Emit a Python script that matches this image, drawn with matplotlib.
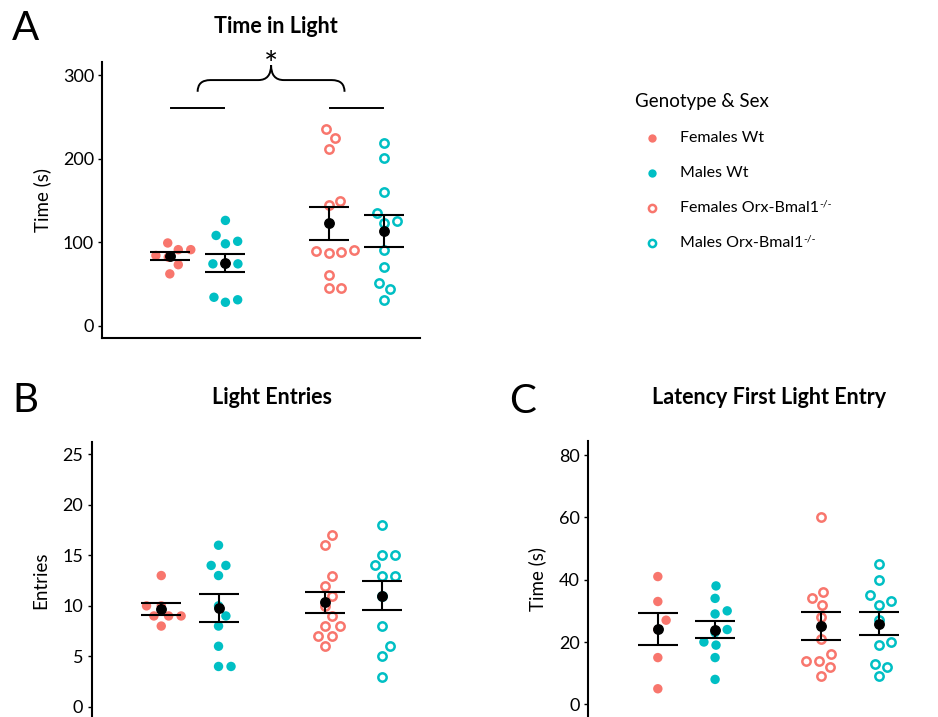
import numpy as np
import matplotlib
matplotlib.use('Agg')
import matplotlib.pyplot as plt
from matplotlib.path import Path
from matplotlib.patches import PathPatch
from matplotlib.lines import Line2D

plt.rcParams['font.family'] = ['Lato', 'DejaVu Sans']

# ---------------------------------------------------------------
#  Data
# ---------------------------------------------------------------
groups = ['Females Wt', 'Males Wt', 'Females Orx-Bmal1', 'Males Orx-Bmal1']
genotype_pos = [1, 1, 2, 2]
sex_offset = [-0.175, 0.175, -0.175, 0.175]
group_colors = ['#F8766D', '#00BFC4', '#F8766D', '#00BFC4']
group_filled = [True, True, False, False]

time_in_light = [
    [99, 91, 91, 84, 82, 73, 62],
    [126, 108, 101, 98, 74, 74, 74, 34, 28, 31],
    [235, 225, 212, 149, 144, 89, 87, 88, 90, 61, 45, 45],
    [219, 201, 160, 135, 125, 123, 90, 70, 51, 44, 31],
]
light_entries = [
    [13, 10, 10, 9, 9, 9, 8],
    [16, 14, 14, 13, 10, 9, 8, 6, 4, 4],
    [17, 16, 13, 12, 11, 10, 9, 8, 8, 7, 7, 6],
    [18, 15, 15, 14, 13, 13, 11, 8, 6, 5, 3],
]
latency_first = [
    [41, 33, 27, 24, 15, 5],
    [38, 34, 30, 29, 24, 23, 20, 19, 15, 8],
    [60, 36, 34, 32, 28, 21, 16, 14, 14, 12, 9],
    [45, 40, 35, 33, 32, 27, 20, 19, 13, 12, 9],
]

ticks_a = [0, 100, 200, 300]
ticks_b = [0, 5, 10, 15, 20, 25]
ticks_c = [0, 20, 40, 60, 80]

W, H = 938, 717
fig = plt.figure(figsize=(W / 100, H / 100), dpi=100)


def rect(left, top, right, bottom):
    return [left / W, 1 - bottom / H, (right - left) / W, (bottom - top) / H]


def swarm_offsets(ax, values, diam=12.5):
    """simple beeswarm: offsets (px) so that markers don't overlap"""
    ypx = ax.transData.transform(np.column_stack([np.ones(len(values)), values]))[:, 1]
    order = np.argsort(ypx, kind='stable')
    placed = []
    offs = np.zeros(len(values))
    for i in order:
        cands = [0.0]
        for (xo, yo) in placed:
            dy = ypx[i] - yo
            if abs(dy) < diam:
                dx = np.sqrt(diam ** 2 - dy ** 2)
                cands += [xo + dx, xo - dx]
        cands = sorted(cands, key=lambda c: (round(abs(c), 3), -c))
        for c in cands:
            ok = all((c - xo) ** 2 + (ypx[i] - yo) ** 2 >= diam ** 2 - 1e-6
                     for (xo, yo) in placed)
            if ok:
                offs[i] = c
                placed.append((c, ypx[i]))
                break
    return offs


def style_ax(ax, ylim, yticks, ylabel, label_x, bottom=True):
    ax.set_xlim(0.4, 2.4)
    ax.set_ylim(*ylim)
    ax.set_yticks(yticks)
    ax.set_xticks([])
    for s in ['top', 'right']:
        ax.spines[s].set_visible(False)
    ax.spines['bottom'].set_visible(bottom)
    ax.spines['left'].set_linewidth(1.5)
    ax.spines['bottom'].set_linewidth(1.5)
    ax.tick_params(axis='y', length=3, width=1, labelsize=13, pad=3)
    ax.set_ylabel(ylabel, fontsize=13.5)
    ax.yaxis.set_label_coords(label_x, 0.5)
    ax.yaxis.label.set_va('center')


def draw_panel(ax, data):
    px_per_unit = ax.transData.transform((1, 0))[0] - ax.transData.transform((0, 0))[0]
    for k, vals in enumerate(data):
        vals = np.array(vals, dtype=float)
        xc = genotype_pos[k] + sex_offset[k]
        xs = xc + swarm_offsets(ax, vals) / px_per_unit
        if group_filled[k]:
            ax.scatter(xs, vals, s=46, color=group_colors[k], edgecolors='none', zorder=2)
        else:
            ax.scatter(xs, vals, s=36, facecolors='white', edgecolors=group_colors[k],
                       linewidths=1.8, zorder=2)
        m = vals.mean()
        sem = vals.std(ddof=1) / np.sqrt(len(vals))
        ax.errorbar(xc, m, yerr=sem, fmt='o', color='black', ms=6.8, capsize=14.3,
                    elinewidth=1.5, capthick=1.5, zorder=3)


# ── Panel A ────────────────────────────────────────────────
ax_a = fig.add_axes(rect(102.3, 61.7, 420, 338.2))
style_ax(ax_a, (-15, 316), ticks_a, 'Time (s)', -0.19)
draw_panel(ax_a, time_in_light)

# significance bracket
for g in [1, 2]:
    ax_a.plot([g - 0.165, g + 0.165], [260, 260], color='black', lw=1.4, clip_on=False)
x0, x1 = 1.0, 1.925
xm = (x0 + x1) / 2
y_end, y_flat, y_peak = 280, 294, 312
verts = [(x0, y_end), (x0, y_flat), (x0 + 0.08, y_flat),
         (xm - 0.08, y_flat), (xm, y_flat), (xm, y_peak),
         (xm, y_flat), (xm + 0.08, y_flat),
         (x1 - 0.08, y_flat), (x1, y_flat), (x1, y_end)]
codes = [Path.MOVETO, Path.CURVE3, Path.CURVE3,
         Path.LINETO, Path.CURVE3, Path.CURVE3,
         Path.CURVE3, Path.CURVE3,
         Path.LINETO, Path.CURVE3, Path.CURVE3]
ax_a.add_patch(PathPatch(Path(verts, codes), facecolor='none', edgecolor='black',
                         lw=1.4, clip_on=False))
ax_a.text(xm, 300, '*', ha='center', va='baseline', fontsize=24, clip_on=False)

# ── Panel B ────────────────────────────────────────────────
ax_b = fig.add_axes(rect(91.7, 441.7, 419, 719.5))
style_ax(ax_b, (-1.25, 26.25), ticks_b, 'Entries', -0.155, bottom=False)
draw_panel(ax_b, light_entries)

# ── Panel C ────────────────────────────────────────────────
ax_c = fig.add_axes(rect(588.3, 441, 915.5, 716.8))
style_ax(ax_c, (-4, 84.5), ticks_c, 'Time (s)', -0.155, bottom=False)
draw_panel(ax_c, latency_first)

# ── titles & panel letters ─────────────────────────────────
fig.text(276 / W, 1 - 33.3 / H, 'Time in Light', ha='center', va='baseline',
         fontsize=15.5, fontweight='bold')
fig.text(271.7 / W, 1 - 404 / H, 'Light Entries', ha='center', va='baseline',
         fontsize=15.5, fontweight='bold')
fig.text(769.5 / W, 1 - 404 / H, 'Latency First Light Entry', ha='center', va='baseline',
         fontsize=15.5, fontweight='bold')
for letter, (lx, ly) in zip('ABC', [(12, 40), (12, 412.5), (509, 413)]):
    fig.text(lx / W, 1 - ly / H, letter, ha='left', va='baseline', fontsize=29)

# ── legend ─────────────────────────────────────────────────
fig.text(635 / W, 1 - 101.7 / H, 'Genotype & Sex', ha='left', va='center', fontsize=13.5)
legend_labels = ['Females Wt', 'Males Wt', 'Females Orx-Bmal1', 'Males Orx-Bmal1']
legend_sup = ['', '', '-/-', '-/-']
for k, lab in enumerate(legend_labels):
    yy = 1 - (138.3 + 35 * k) / H
    if group_filled[k]:
        mk = Line2D([652.3 / W], [yy], marker='o', ms=6, color=group_colors[k],
                    mec='none', ls='none', transform=fig.transFigure)
    else:
        mk = Line2D([652.3 / W], [yy], marker='o', ms=5.2, mfc='white',
                    mec=group_colors[k], mew=1.8, ls='none', transform=fig.transFigure)
    fig.add_artist(mk)
    t = fig.text(680 / W, yy, lab, ha='left', va='center', fontsize=11.5)
    if legend_sup[k]:
        ax_a.annotate(legend_sup[k], xy=(1, 0.82), xycoords=t, ha='left', va='center',
                      fontsize=7.5, annotation_clip=False)

fig.savefig('out.png', dpi=100, facecolor='white')
plt.close(fig)
